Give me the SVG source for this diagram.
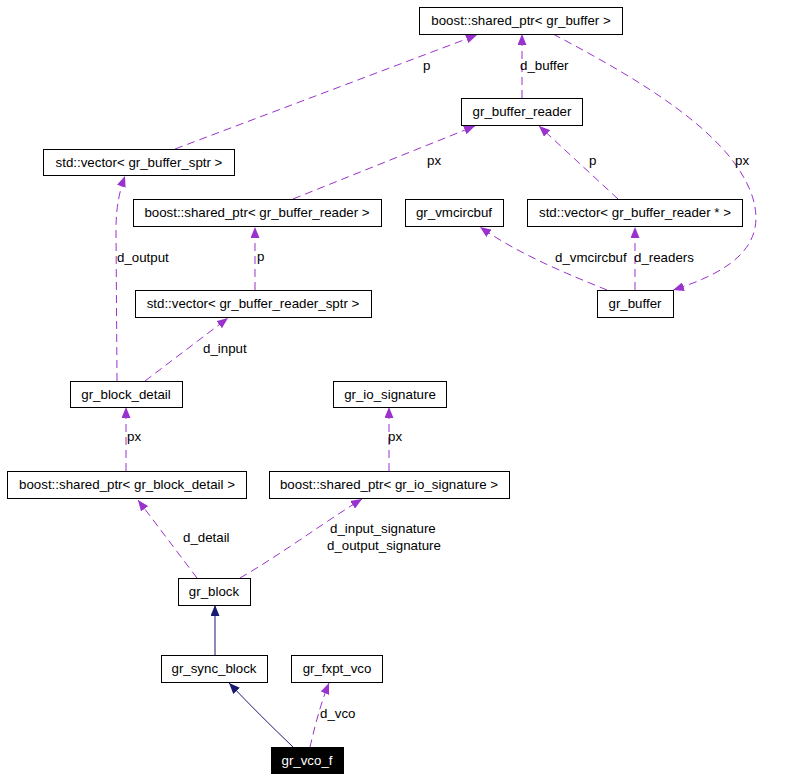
<svg xmlns="http://www.w3.org/2000/svg" width="800" height="780" viewBox="0 0 800 780">
<defs>
<style>
.n rect{fill:#fff;stroke:#000;stroke-width:1}
.n text{font-family:"Liberation Sans",Arial,sans-serif;font-size:13.3px;text-anchor:middle;fill:#000}
.e{fill:none;stroke:#9a32cd;stroke-width:1;stroke-dasharray:8,5}
.i{fill:none;stroke:#191970;stroke-width:1}
.l{font-family:"Liberation Sans",Arial,sans-serif;font-size:13.3px;fill:#000}
</style>
<marker id="ap" markerWidth="11" markerHeight="9" refX="11" refY="4.5" orient="auto" markerUnits="userSpaceOnUse"><path d="M0,0 L11,4.5 L0,9 z" fill="#9a32cd"/></marker>
<marker id="ai" markerWidth="11" markerHeight="9" refX="11" refY="4.5" orient="auto" markerUnits="userSpaceOnUse"><path d="M0,0 L11,4.5 L0,9 z" fill="#191970"/></marker>
</defs>
<rect width="800" height="780" fill="#fff"/>
<g id="edges">
<path class="i" d="M293,747 C270,725 250,705 229,683" marker-end="url(#ai)"/>
<path class="i" d="M215,655 L215,605" marker-end="url(#ai)"/>
<path class="e" d="M310,747 C314,730 320,705 329,683" marker-end="url(#ap)"/>
<path class="e" d="M197,578 L138,500" marker-end="url(#ap)"/>
<path class="e" d="M240,578 C280,555 320,525 362,499" marker-end="url(#ap)"/>
<path class="e" d="M126,471 L126,407" marker-end="url(#ap)"/>
<path class="e" d="M389,471 L389,407" marker-end="url(#ap)"/>
<path class="e" d="M117,381 L116,230 C116,205 120,190 125,176" marker-end="url(#ap)"/>
<path class="e" d="M145,381 L228,318" marker-end="url(#ap)"/>
<path class="e" d="M255,290 L255,227" marker-end="url(#ap)"/>
<path class="e" d="M293,199 L475,126" marker-end="url(#ap)"/>
<path class="e" d="M618,199 L539,126" marker-end="url(#ap)"/>
<path class="e" d="M522,98 L522,34" marker-end="url(#ap)"/>
<path class="e" d="M175,149 L477,35" marker-end="url(#ap)"/>
<path class="e" d="M553,34 C640,80 725,130 750,190 C772,245 730,272 673,290" marker-end="url(#ap)"/>
<path class="e" d="M607,290 C570,275 520,255 480,227" marker-end="url(#ap)"/>
<path class="e" d="M635,290 L635,227" marker-end="url(#ap)"/>
<text class="l" x="423" y="70">p</text>
<text class="l" x="520" y="70">d_buffer</text>
<text class="l" x="427" y="165">px</text>
<text class="l" x="589" y="165">p</text>
<text class="l" x="735" y="165">px</text>
<text class="l" x="117" y="262">d_output</text>
<text class="l" x="257" y="261">p</text>
<text class="l" x="555" y="262">d_vmcircbuf</text>
<text class="l" x="634" y="262">d_readers</text>
<text class="l" x="203" y="353">d_input</text>
<text class="l" x="127" y="441">px</text>
<text class="l" x="388" y="441">px</text>
<text class="l" x="183" y="542">d_detail</text>
<text class="l" x="330" y="533">d_input_signature</text>
<text class="l" x="327" y="550">d_output_signature</text>
<text class="l" x="320" y="718">d_vco</text>
</g>
<g id="n_sp_buffer" class="n"><rect x="419.5" y="7.5" width="203" height="27"/><text x="521" y="25">boost::shared_ptr&lt; gr_buffer &gt;</text></g>
<g id="n_buffer_reader" class="n"><rect x="461.5" y="98.5" width="121" height="27"/><text x="522" y="116">gr_buffer_reader</text></g>
<g id="n_vec_buffer_sptr" class="n"><rect x="43.5" y="149.5" width="191" height="26"/><text x="139" y="167">std::vector&lt; gr_buffer_sptr &gt;</text></g>
<g id="n_sp_buffer_reader" class="n"><rect x="133.5" y="199.5" width="248" height="27"/><text x="257" y="217">boost::shared_ptr&lt; gr_buffer_reader &gt;</text></g>
<g id="n_vec_reader_sptr" class="n"><rect x="135.5" y="290.5" width="236" height="27"/><text x="253" y="308">std::vector&lt; gr_buffer_reader_sptr &gt;</text></g>
<g id="n_vmcircbuf" class="n"><rect x="405.5" y="199.5" width="98" height="27"/><text x="454" y="217">gr_vmcircbuf</text></g>
<g id="n_vec_reader_ptr" class="n"><rect x="527.5" y="199.5" width="215" height="27"/><text x="635" y="217">std::vector&lt; gr_buffer_reader * &gt;</text></g>
<g id="n_buffer" class="n"><rect x="597.5" y="290.5" width="76" height="27"/><text x="635" y="308">gr_buffer</text></g>
<g id="n_block_detail" class="n"><rect x="70.5" y="381.5" width="112" height="26"/><text x="126" y="399">gr_block_detail</text></g>
<g id="n_io_signature" class="n"><rect x="333.5" y="381.5" width="113" height="26"/><text x="390" y="399">gr_io_signature</text></g>
<g id="n_sp_block_detail" class="n"><rect x="7.5" y="471.5" width="239" height="27"/><text x="127" y="489">boost::shared_ptr&lt; gr_block_detail &gt;</text></g>
<g id="n_sp_io_signature" class="n"><rect x="269.5" y="471.5" width="240" height="27"/><text x="389" y="489">boost::shared_ptr&lt; gr_io_signature &gt;</text></g>
<g id="n_block" class="n"><rect x="178.5" y="578.5" width="72" height="27"/><text x="214" y="596">gr_block</text></g>
<g id="n_sync_block" class="n"><rect x="161.5" y="655.5" width="106" height="27"/><text x="214" y="673">gr_sync_block</text></g>
<g id="n_fxpt_vco" class="n"><rect x="291.5" y="655.5" width="91" height="27"/><text x="337" y="673">gr_fxpt_vco</text></g>
<g id="n_vco_f" class="n"><rect x="271.5" y="747.5" width="72" height="26" style="fill:#000"/><text x="307" y="765" style="fill:#fff">gr_vco_f</text></g>
</svg>
